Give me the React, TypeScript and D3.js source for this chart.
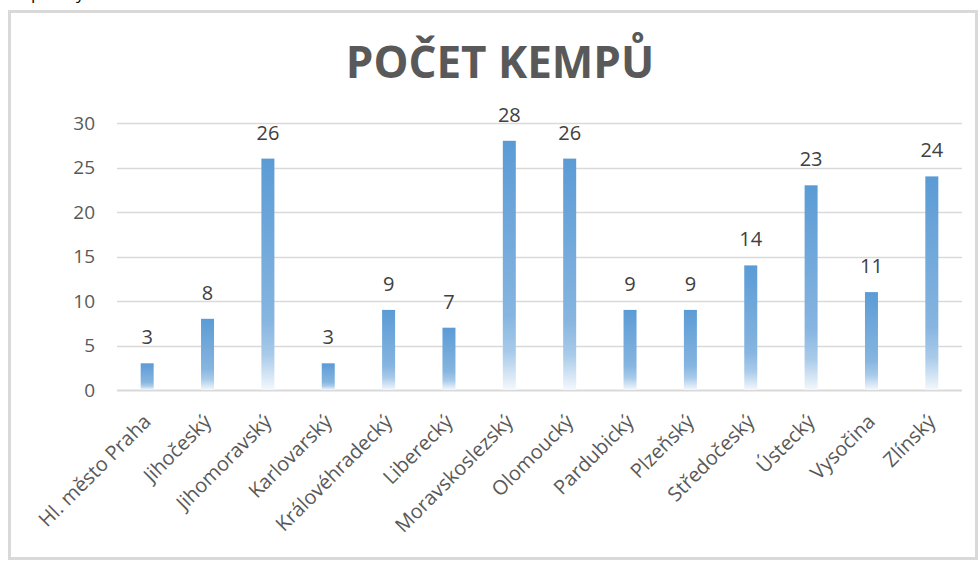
import React from "react";
import * as d3 from "d3";

const categories = [
  "Hl. město Praha",
  "Jihočeský",
  "Jihomoravský",
  "Karlovarský",
  "Královéhradecký",
  "Liberecký",
  "Moravskoslezský",
  "Olomoucký",
  "Pardubický",
  "Plzeňský",
  "Středočeský",
  "Ústecký",
  "Vysočina",
  "Zlínský",
];
const values = [3, 8, 26, 3, 9, 7, 28, 26, 9, 9, 14, 23, 11, 24];
const yTicks = [0, 5, 10, 15, 20, 25, 30];
const title = "POČET KEMPŮ";

const W = 980;
const H = 562;
const FONT = "'Open Sans', 'Noto Sans', 'DejaVu Sans', sans-serif";

export default function App() {
  const x = d3.scaleBand<string>().domain(categories).range([117, 962]).paddingInner(0).paddingOuter(0);
  const y = d3.scaleLinear().domain([0, 30]).range([390, 123]);
  const barW = 13;

  return (
    <svg
      width={W}
      height={H}
      style={{ position: "absolute", left: 0, top: 0, background: "#fff" }}
    >
      <defs>
        <linearGradient id="barGrad" x1="0" y1="0" x2="0" y2="1">
          <stop offset="0%" stopColor="#5B9BD5" />
          <stop offset="70%" stopColor="#86b5e0" />
          <stop offset="85%" stopColor="#a9cbea" />
          <stop offset="100%" stopColor="#f4f8fc" />
        </linearGradient>
      </defs>
      <text x={31} y={-1} fontFamily={FONT} fontSize={17} fill="#000">p</text>
      <text x={76} y={-1} fontFamily={FONT} fontSize={17} fill="#000">y</text>
      <rect x={9.5} y={11.5} width={967} height={547} fill="#fff" stroke="#d9d9d9" strokeWidth={3} />
      <text
        x={500}
        y={78}
        textAnchor="middle"
        fontFamily={FONT}
        fontWeight={700}
        fontSize={44}
        fill="#595959"
      >
        {title}
      </text>
      {yTicks.map((t) => (
        <g key={t}>
          <line
            x1={117}
            x2={962}
            y1={Math.round(y(t)) + 0.5}
            y2={Math.round(y(t)) + 0.5}
            stroke="#d9d9d9"
            strokeWidth={t === 0 ? 2 : 1.5}
          />
          <text
            x={95}
            y={y(t)}
            dy="0.35em"
            textAnchor="end"
            fontFamily={FONT}
            fontSize={19}
            fill="#595959"
          >
            {t}
          </text>
        </g>
      ))}
      {categories.map((c, i) => {
        const cx = (x(c) as number) + x.bandwidth() / 2;
        const v = values[i];
        return (
          <g key={c}>
            <rect
              x={cx - barW / 2}
              y={y(v)}
              width={barW}
              height={y(0) - y(v)}
              fill="url(#barGrad)"
            />
            <text
              x={cx}
              y={y(v) - 19}
              textAnchor="middle"
              fontFamily={FONT}
              fontSize={20}
              fill="#404040"
            >
              {v}
            </text>
            <text
              transform={`translate(${cx + 5},${423}) rotate(-45)`}
              textAnchor="end"
              fontFamily={FONT}
              fontSize={20}
              fill="#595959"
            >
              {c}
            </text>
          </g>
        );
      })}
    </svg>
  );
}
